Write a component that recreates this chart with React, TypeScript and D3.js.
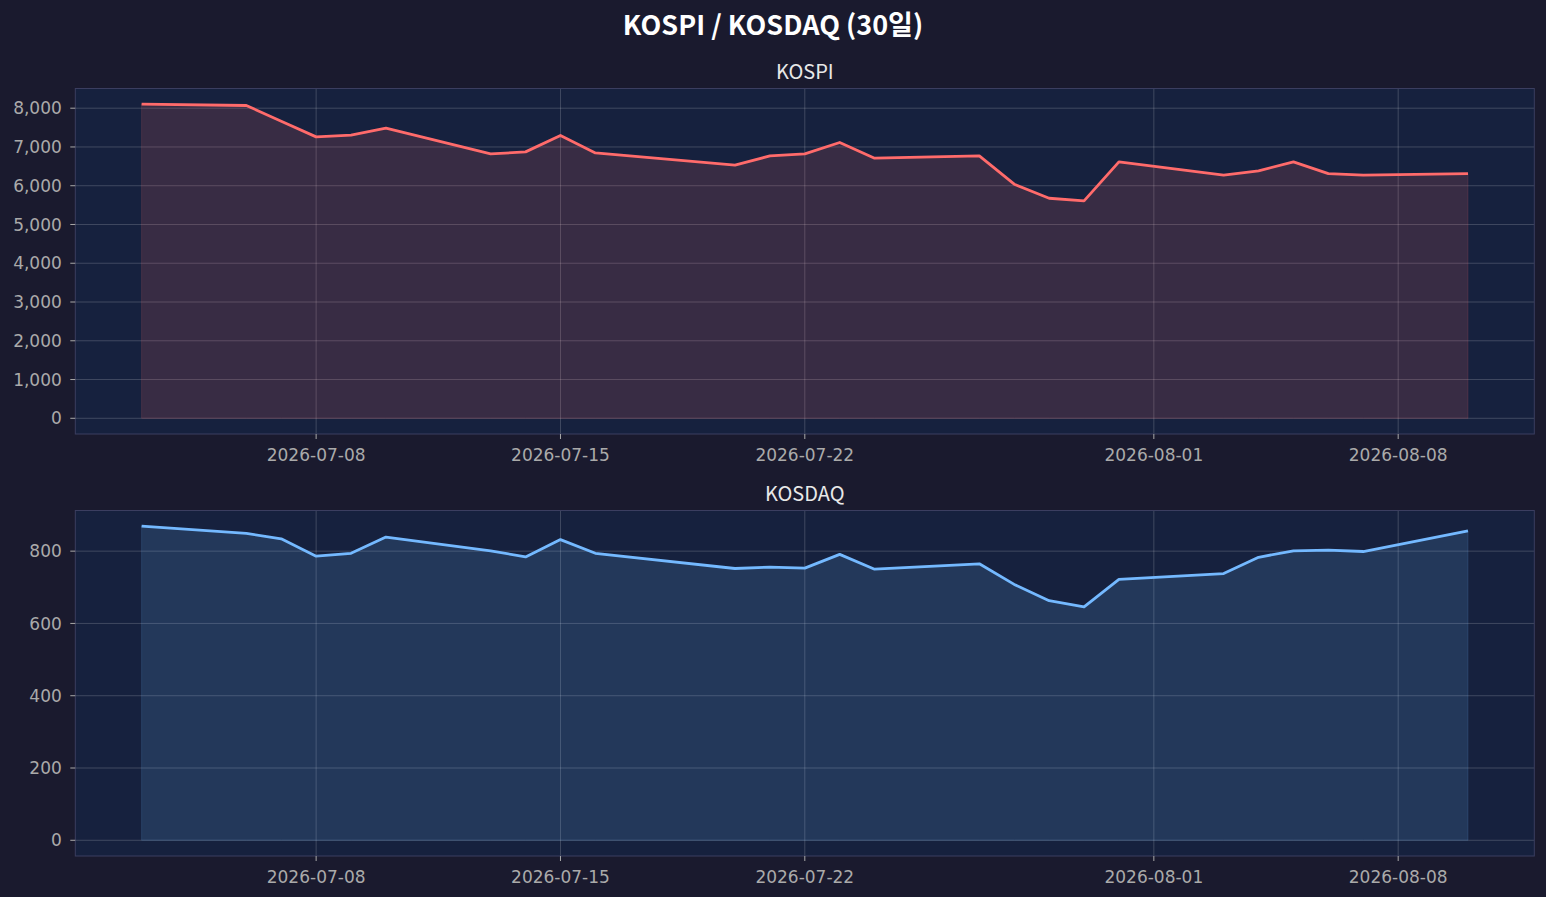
import React from "react";
import * as d3 from "d3";

const dates = [
  "2026-07-03", "2026-07-06", "2026-07-07", "2026-07-08", "2026-07-09", "2026-07-10",
  "2026-07-13", "2026-07-14", "2026-07-15", "2026-07-16", "2026-07-20", "2026-07-21",
  "2026-07-22", "2026-07-23", "2026-07-24", "2026-07-27", "2026-07-28", "2026-07-29",
  "2026-07-30", "2026-07-31", "2026-08-03", "2026-08-04", "2026-08-05", "2026-08-06",
  "2026-08-07", "2026-08-10",
];
const kospi = [
  8103, 8070, 7665, 7260, 7303, 7484, 6821, 6873, 7295, 6847, 6529, 6769,
  6821, 7115, 6710, 6769, 6039, 5677, 5608, 6615, 6271, 6383, 6615, 6314,
  6271, 6314,
];
const kosdaq = [
  869, 849, 834, 786, 794, 839, 801, 784, 832, 794, 752, 756,
  753, 791, 750, 765, 708, 663, 646, 722, 738, 783, 801, 803,
  799, 856,
];
const xTickLabels = ["2026-07-08", "2026-07-15", "2026-07-22", "2026-08-01", "2026-08-08"];
const kospiTicks = [0, 1000, 2000, 3000, 4000, 5000, 6000, 7000, 8000];
const kosdaqTicks = [0, 200, 400, 600, 800];

const W = 1546;
const H = 897;
const FONT = "'Noto Sans CJK KR', 'Noto Sans', sans-serif";
const TICK_FONT = "'DejaVu Sans', 'Noto Sans CJK KR', sans-serif";
const BG = "#1a1a2e";
const AX_BG = "#16213e";
const SPINE = "#3b3e60";
const GRID = "rgba(255,255,255,0.18)";
const TICK_COLOR = "#aaaaaa";

const parse = d3.timeParse("%Y-%m-%d");

type PanelProps = {
  title: string;
  values: number[];
  ticks: number[];
  color: string;
  top: number;
};

const LEFT = 75.3;
const RIGHT = 1534.3;
const AX_H = 345.5;

function Panel({ title, values, ticks, color, top }: PanelProps) {
  const ds = dates.map((d) => parse(d) as Date);
  const [x0, x1] = d3.extent(ds) as [Date, Date];
  const span = +x1 - +x0;
  const x = d3
    .scaleTime()
    .domain([new Date(+x0 - span * 0.05), new Date(+x1 + span * 0.05)])
    .range([LEFT, RIGHT]);
  const vmax = Math.max(0, d3.max(values) as number);
  const vmin = Math.min(0, d3.min(values) as number);
  const vspan = vmax - vmin;
  const y = d3
    .scaleLinear()
    .domain([vmin - vspan * 0.05, vmax + vspan * 0.05])
    .range([top + AX_H, top]);

  const pts = ds.map((d, i) => [x(d), y(values[i])] as [number, number]);
  const line = d3.line<[number, number]>().x((p) => p[0]).y((p) => p[1])(pts) || "";
  const area =
    d3
      .area<[number, number]>()
      .x((p) => p[0])
      .y0(y(0))
      .y1((p) => p[1])(pts) || "";
  const fmt = d3.format(",");
  const xt = xTickLabels.map((s) => parse(s) as Date);

  return (
    <g>
      <rect x={LEFT} y={top} width={RIGHT - LEFT} height={AX_H} fill={AX_BG} />
      {ticks.map((t) => (
        <line key={"gy" + t} x1={LEFT} x2={RIGHT} y1={y(t)} y2={y(t)} stroke={GRID} strokeWidth={1} />
      ))}
      {xt.map((t, i) => (
        <line key={"gx" + i} x1={x(t)} x2={x(t)} y1={top} y2={top + AX_H} stroke={GRID} strokeWidth={1} />
      ))}
      <path d={area} fill={color} fillOpacity={0.15} stroke={color} strokeOpacity={0.15} strokeWidth={1} />
      <path d={line} fill="none" stroke={color} strokeWidth={2.8} strokeLinejoin="round" />
      <rect x={LEFT} y={top} width={RIGHT - LEFT} height={AX_H} fill="none" stroke={SPINE} strokeWidth={1} />
      {ticks.map((t) => (
        <g key={"ty" + t}>
          <line x1={LEFT - 5} x2={LEFT} y1={y(t)} y2={y(t)} stroke={TICK_COLOR} strokeWidth={1} />
          <text
            x={LEFT - 13.5}
            y={y(t)}
            dy="0.36em"
            textAnchor="end"
            fill={TICK_COLOR}
            fontSize={17}
            fontFamily={TICK_FONT}
          >
            {fmt(t)}
          </text>
        </g>
      ))}
      {xt.map((t, i) => (
        <g key={"tx" + i}>
          <line x1={x(t)} x2={x(t)} y1={top + AX_H} y2={top + AX_H + 5} stroke={TICK_COLOR} strokeWidth={1} />
          <text
            x={x(t)}
            y={top + AX_H + 26.5}
            textAnchor="middle"
            fill={TICK_COLOR}
            fontSize={17}
            fontFamily={TICK_FONT}
          >
            {xTickLabels[i]}
          </text>
        </g>
      ))}
      <text
        x={(LEFT + RIGHT) / 2}
        y={top - 9.5}
        textAnchor="middle"
        fill="#e8e8e8"
        fontSize={20}
        fontFamily={FONT}
      >
        {title}
      </text>
    </g>
  );
}

export default function App() {
  return (
    <svg
      width={W}
      height={H}
      style={{ position: "absolute", left: 0, top: 0, display: "block" }}
    >
      <rect x={0} y={0} width={W} height={H} fill={BG} />
      <text
        x={W / 2}
        y={35}
        textAnchor="middle"
        fill="#ffffff"
        fontSize={27}
        fontWeight="bold"
        fontFamily={FONT}
      >
        KOSPI / KOSDAQ (30일)
      </text>
      <Panel title="KOSPI" values={kospi} ticks={kospiTicks} color="#ff6b6b" top={88.5} />
      <Panel title="KOSDAQ" values={kosdaq} ticks={kosdaqTicks} color="#74b9ff" top={510.5} />
    </svg>
  );
}
